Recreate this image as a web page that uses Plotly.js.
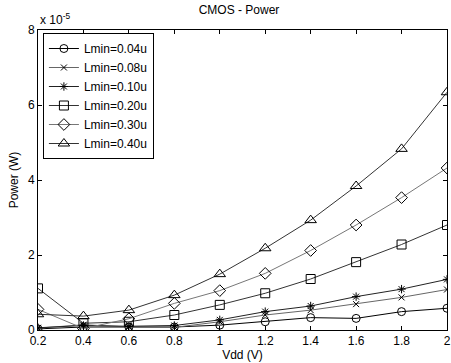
<!DOCTYPE html>
<html>
<head>
<meta charset="utf-8">
<script src="https://cdn.plot.ly/plotly-3.0.1.min.js"></script>
<style>html,body{margin:0;padding:0;background:#fff;}#chart{width:451px;height:363px;}</style>
</head>
<body>
<div id="chart"></div>
<script>
// Power values in units of 1e-5 W
const vdd = [0.2, 0.4, 0.6, 0.8, 1.0, 1.2, 1.4, 1.6, 1.8, 2.0];
const names = ["Lmin=0.04u", "Lmin=0.08u", "Lmin=0.10u", "Lmin=0.20u", "Lmin=0.30u", "Lmin=0.40u"];
const p004 = [0.03, 0.08, 0.08, 0.08, 0.13, 0.22, 0.33, 0.31, 0.49, 0.58];
const p008 = [0.05, 0.14, 0.08, 0.07, 0.22, 0.40, 0.53, 0.69, 0.87, 1.08];
const p010 = [0.06, 0.12, 0.10, 0.12, 0.27, 0.49, 0.64, 0.89, 1.09, 1.35];
const p020 = [1.11, 0.18, 0.22, 0.40, 0.67, 0.98, 1.36, 1.81, 2.28, 2.80];
const p030 = [0.55, 0.04, 0.30, 0.71, 1.05, 1.51, 2.12, 2.80, 3.53, 4.32];
const p040 = [0.42, 0.37, 0.53, 0.93, 1.49, 2.18, 2.93, 3.84, 4.83, 6.34];
const yTicks = [0, 2, 4, 6, 8];
const xTicks = [0.2, 0.4, 0.6, 0.8, 1, 1.2, 1.4, 1.6, 1.8, 2];

const series = [p004, p008, p010, p020, p030, p040];
const symbols = ["circle-open", "x-thin-open", "asterisk-open", "square-open", "diamond-open", "triangle-up-open"];
const colors = ["#000000", "#666666", "#222222", "#333333", "#777777", "#333333"];
const sizes = [8, 6, 7, 9, 9, 10];

const traces = series.map((ys, i) => ({
  x: vdd, y: ys, name: names[i], type: "scatter", mode: "lines+markers",
  line: {color: colors[i], width: 1},
  marker: {symbol: symbols[i], size: sizes[i], color: "#000", line: {color: "#000", width: 1}}
}));

const layout = {
  width: 451, height: 363,
  margin: {l: 38, r: 4, t: 30, b: 33},
  paper_bgcolor: "#fff", plot_bgcolor: "#fff",
  font: {family: "Liberation Sans, Arial, sans-serif", size: 12, color: "#000"},
  title: {text: "CMOS - Power", font: {size: 12}, x: 0.53, xanchor: "center", y: 0.972, yanchor: "middle"},
  xaxis: {
    range: [0.2, 2], tickvals: xTicks, ticktext: xTicks.map(String),
    ticks: "inside", ticklen: 4, tickcolor: "#000", showline: true, linecolor: "#000", linewidth: 1,
    mirror: "ticks", showgrid: false, zeroline: false, tickfont: {size: 12},
    title: {text: "Vdd (V)", font: {size: 12}, standoff: 1}
  },
  yaxis: {
    range: [0, 8], tickvals: yTicks, ticktext: yTicks.map(String),
    ticks: "inside", ticklen: 4, tickcolor: "#000", showline: true, linecolor: "#000", linewidth: 1,
    mirror: "ticks", showgrid: false, zeroline: false, tickfont: {size: 12},
    title: {text: "Power (W)", font: {size: 12}, standoff: 6}
  },
  showlegend: true,
  legend: {x: 0.012, y: 0.99, xanchor: "left", yanchor: "top", bgcolor: "#fff",
    bordercolor: "#000", borderwidth: 1, font: {size: 12}, tracegroupgap: 0, itemwidth: 30},
  annotations: [{xref: "paper", yref: "paper", x: 0, y: 1, xanchor: "left", yanchor: "bottom",
    text: "x 10<sup>-5</sup>", showarrow: false, font: {size: 12}, yshift: 1}]
};

Plotly.newPlot("chart", traces, layout, {displayModeBar: false, staticPlot: true});
</script>
</body>
</html>
